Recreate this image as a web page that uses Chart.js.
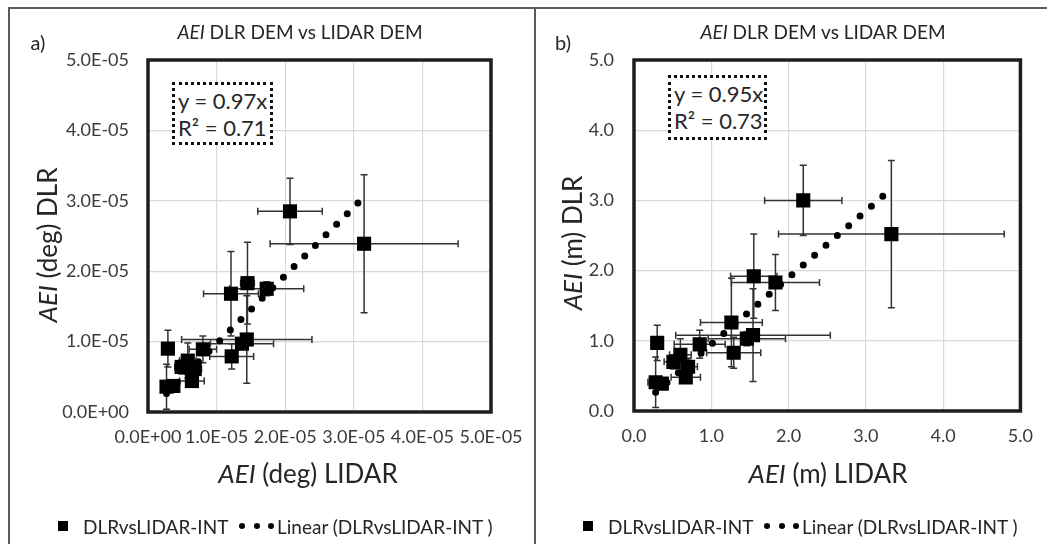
<!DOCTYPE html>
<html>
<head>
<meta charset="utf-8">
<script src="https://cdn.jsdelivr.net/npm/chart.js@4.4.0/dist/chart.umd.min.js"></script>
<style>
  body { margin: 0; background: #fff; width: 1047px; height: 544px; overflow: hidden; position: relative;
         font-family: Lato, "Open Sans", sans-serif; color: #262626; }
  canvas { position: absolute; left: 0; top: 0; }
  .t { position: absolute; transform: translate(-50%, -50%); white-space: nowrap; line-height: 1; }
  .rot { transform: translate(-50%, -50%) rotate(-90deg); }
  .frame { position: absolute; background: #5a5a5a; }
  .eq { position: absolute; border: 3.5px dotted #111; box-sizing: border-box; font-size: 22px;
        line-height: 27px; padding: 2px 0 0 3px; color: #262626; white-space: nowrap; background: #fff; }
  .leg { position: absolute; font-size: 19px; line-height: 1; white-space: nowrap; transform: translateY(-50%); }
  .sq { position: absolute; width: 10px; height: 10px; background: #000; }
  .dot { position: absolute; width: 6px; height: 6px; border-radius: 50%; background: #000; }
</style>
</head>
<body>
<div class="frame" style="left:8px;top:7px;width:1039px;height:2px"></div>
<div class="frame" style="left:8px;top:7px;width:2px;height:537px"></div>
<div class="frame" style="left:534px;top:7px;width:2px;height:537px"></div>

<canvas id="chartA" width="1047" height="544"></canvas>
<canvas id="chartB" width="1047" height="544"></canvas>

<!-- panel a texts -->
<div class="t" style="left:38px;top:42px;font-size:20px">a)</div>
<div class="t" style="left:300px;top:31px;font-size:19px"><i>AEI</i> DLR DEM vs LIDAR DEM</div>
<div class="t rot" style="left:47px;top:245px;font-size:26px"><i>AEI</i> (deg) DLR</div>
<div class="t" style="left:308px;top:473px;font-size:26px"><i>AEI</i> (deg) LIDAR</div>
<div class="eq" style="left:172px;top:82px;width:101px;height:63px">y = 0.97x<br>R² = 0.71</div>
<div class="sq" style="left:58px;top:521px"></div>
<div class="leg" style="left:83px;top:526px">DLRvsLIDAR-INT</div>
<div class="dot" style="left:239px;top:523px"></div>
<div class="dot" style="left:254px;top:523px"></div>
<div class="dot" style="left:268px;top:523px"></div>
<div class="leg" style="left:277px;top:526px">Linear (DLRvsLIDAR-INT )</div>

<!-- panel b texts -->
<div class="t" style="left:563px;top:42px;font-size:20px">b)</div>
<div class="t" style="left:823px;top:31px;font-size:19px"><i>AEI</i> DLR DEM vs LIDAR DEM</div>
<div class="t rot" style="left:572px;top:243px;font-size:26px"><i>AEI</i> (m) DLR</div>
<div class="t" style="left:828px;top:473px;font-size:26px"><i>AEI</i> (m) LIDAR</div>
<div class="eq" style="left:668px;top:75px;width:99px;height:65px">y = 0.95x<br>R² = 0.73</div>
<div class="sq" style="left:583px;top:521px"></div>
<div class="leg" style="left:608px;top:526px">DLRvsLIDAR-INT</div>
<div class="dot" style="left:764px;top:523px"></div>
<div class="dot" style="left:779px;top:523px"></div>
<div class="dot" style="left:793px;top:523px"></div>
<div class="leg" style="left:802px;top:526px">Linear (DLRvsLIDAR-INT )</div>

<script>
// ---- panel a: AEI in degrees ----
const degLidar    = [0.29e-5, 0.27e-5, 0.37e-5, 0.49e-5, 0.58e-5, 0.68e-5, 0.64e-5, 0.80e-5,
                     1.22e-5, 1.37e-5, 1.44e-5, 1.21e-5, 1.45e-5, 1.73e-5, 2.07e-5, 3.15e-5];
const degDlr      = [0.90e-5, 0.36e-5, 0.37e-5, 0.64e-5, 0.73e-5, 0.61e-5, 0.44e-5, 0.89e-5,
                     0.79e-5, 0.97e-5, 1.03e-5, 1.68e-5, 1.83e-5, 1.75e-5, 2.85e-5, 2.39e-5];
const degLidarErr = [0.05e-5, 0.06e-5, 0.08e-5, 0.10e-5, 0.12e-5, 0.10e-5, 0.18e-5, 0.20e-5,
                     0.32e-5, 0.46e-5, 0.95e-5, 0.40e-5, 0.10e-5, 0.54e-5, 0.47e-5, 1.37e-5];
const degDlrErr   = [0.26e-5, 0.32e-5, 0.06e-5, 0.10e-5, 0.25e-5, 0.10e-5, 0.08e-5, 0.19e-5,
                     0.18e-5, 0.08e-5, 0.62e-5, 0.60e-5, 0.58e-5, 0.10e-5, 0.47e-5, 0.98e-5];
const degSlope = 0.97;
const degTickValues = [0, 1e-5, 2e-5, 3e-5, 4e-5, 5e-5];
const degTickLabels = ['0.0E+00', '1.0E-05', '2.0E-05', '3.0E-05', '4.0E-05', '5.0E-05'];

// ---- panel b: AEI in metres ----
const mLidar    = [0.30, 0.28, 0.36, 0.51, 0.60, 0.70, 0.67, 0.85,
                   1.26, 1.29, 1.46, 1.54, 1.55, 1.83, 2.19, 3.33];
const mDlr      = [0.97, 0.41, 0.39, 0.70, 0.80, 0.63, 0.48, 0.95,
                   1.26, 0.83, 1.03, 1.08, 1.92, 1.83, 3.00, 2.52];
const mLidarErr = [0.06, 0.10, 0.08, 0.12, 0.14, 0.12, 0.19, 0.33,
                   0.40, 0.35, 0.50, 1.00, 0.30, 0.57, 0.50, 1.46];
const mDlrErr   = [0.25, 0.36, 0.06, 0.10, 0.23, 0.12, 0.08, 0.20,
                   0.63, 0.22, 0.10, 0.66, 0.60, 0.40, 0.50, 1.05];
const mSlope = 0.95;
const mTickValues = [0, 1, 2, 3, 4, 5];
const mTickLabels = ['0.0', '1.0', '2.0', '3.0', '4.0', '5.0'];

const FONT = 'Lato, "Open Sans", sans-serif';
const W = 1047, H = 544;

function points(xs, ys, xe, ye) {
  return xs.map((x, i) => ({ x, y: ys[i], xe: xe[i], ye: ye[i] }));
}
// fitted line y = slope * x across the range of the measured points
function trend(xs, slope) {
  const lo = Math.min(...xs), hi = Math.max(...xs);
  return [{ x: lo, y: slope * lo }, { x: hi, y: slope * hi }];
}

// horizontal and vertical error bars, drawn under the markers
const errorBars = {
  id: 'errorBars',
  beforeDatasetsDraw(chart) {
    const { ctx, scales: { x, y } } = chart;
    const cap = 3.5;
    ctx.save();
    ctx.strokeStyle = '#333';
    ctx.lineWidth = 1.5;
    chart.data.datasets.forEach(ds => {
      if (!ds.errorBars) return;
      ds.data.forEach(p => {
        const cx = x.getPixelForValue(p.x), cy = y.getPixelForValue(p.y);
        const x0 = x.getPixelForValue(p.x - p.xe), x1 = x.getPixelForValue(p.x + p.xe);
        const y0 = y.getPixelForValue(p.y - p.ye), y1 = y.getPixelForValue(p.y + p.ye);
        ctx.beginPath();
        ctx.moveTo(x0, cy); ctx.lineTo(x1, cy);
        ctx.moveTo(x0, cy - cap); ctx.lineTo(x0, cy + cap);
        ctx.moveTo(x1, cy - cap); ctx.lineTo(x1, cy + cap);
        ctx.moveTo(cx, y0); ctx.lineTo(cx, y1);
        ctx.moveTo(cx - cap, y0); ctx.lineTo(cx + cap, y0);
        ctx.moveTo(cx - cap, y1); ctx.lineTo(cx + cap, y1);
        ctx.stroke();
      });
    });
    ctx.restore();
  }
};

// heavy frame around the plot area
const plotFrame = {
  id: 'plotFrame',
  afterDraw(chart) {
    const { ctx, chartArea: a } = chart;
    ctx.save();
    ctx.strokeStyle = '#1e1e1e';
    ctx.lineWidth = 3.5;
    ctx.strokeRect(a.left, a.top, a.right - a.left, a.bottom - a.top);
    ctx.restore();
  }
};

function makeChart(id, area, pts, line, tickValues, tickLabels, yPad, yAxisW) {
  const xAxisH = 40;
  const axis = (labels) => ({
    type: 'linear',
    min: tickValues[0],
    max: tickValues[tickValues.length - 1],
    afterBuildTicks: s => { s.ticks = tickValues.map(v => ({ value: v })); },
    grid: { color: '#d9d9d9', lineWidth: 1.2, drawTicks: false },
    border: { display: false },
    ticks: { color: '#3a3a3a', font: { family: FONT, size: 18 }, autoSkip: false,
             maxRotation: 0, minRotation: 0, callback: (v, i) => labels[i] }
  });
  const xAxis = axis(tickLabels);
  xAxis.ticks.padding = 14;
  xAxis.afterFit = s => { s.height = xAxisH; };
  const yAxis = axis(tickLabels);
  yAxis.ticks.padding = yPad;
  yAxis.afterFit = s => { s.width = yAxisW; };

  return new Chart(document.getElementById(id), {
    type: 'scatter',
    data: {
      datasets: [
        { label: 'Linear (DLRvsLIDAR-INT )', data: line, showLine: true, pointRadius: 0,
          borderColor: '#000', borderWidth: 7, borderDash: [0, 15], borderCapStyle: 'round',
          fill: false, order: 0 },
        { label: 'DLRvsLIDAR-INT', data: pts, errorBars: true, pointStyle: 'rect', pointRadius: 10,
          pointHoverRadius: 10, backgroundColor: '#000', borderColor: '#000', borderWidth: 0, order: 1 }
      ]
    },
    options: {
      responsive: false,
      animation: false,
      events: [],
      layout: { padding: { left: area.left - yAxisW, right: W - area.right, top: area.top,
                           bottom: H - area.bottom - xAxisH } },
      plugins: { legend: { display: false }, tooltip: { enabled: false } },
      scales: { x: xAxis, y: yAxis }
    },
    plugins: [errorBars, plotFrame]
  });
}

makeChart('chartA', { left: 148, right: 491, top: 60, bottom: 412 },
  points(degLidar, degDlr, degLidarErr, degDlrErr), trend(degLidar, degSlope),
  degTickValues, degTickLabels, 19, 125);

makeChart('chartB', { left: 634, right: 1031, top: 60, bottom: 411 },
  points(mLidar, mDlr, mLidarErr, mDlrErr), trend(mLidar, mSlope),
  mTickValues, mTickLabels, 20, 80);
</script>
</body>
</html>
